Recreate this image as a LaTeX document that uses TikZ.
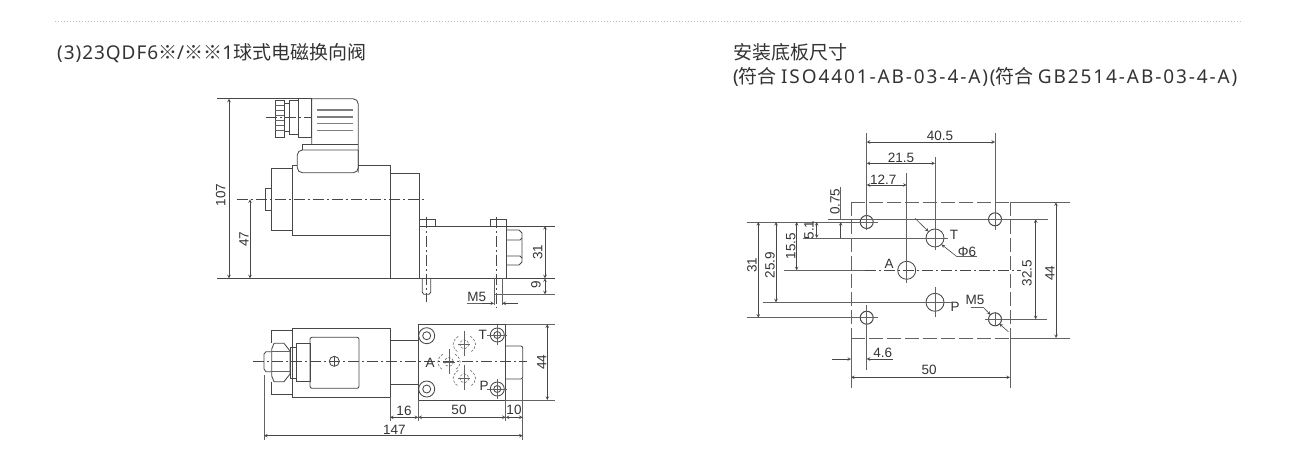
\documentclass[tikz,border=0pt]{standalone}
\usepackage{fontspec}
\setmainfont{Liberation Sans}
\newfontfamily\cjk{Noto Sans CJK SC}
\newfontfamily\headlat[LetterSpace=5]{Noto Sans}
\newfontfamily\headwide[LetterSpace=10]{Noto Sans}
\newcommand{\hl}[1]{{\headlat #1}}
\newcommand{\hw}[1]{{\headwide #1}}
\definecolor{inkline}{HTML}{474747}
\definecolor{inktext}{HTML}{333333}
\tikzset{
  part/.style={draw=inkline, line width=.85pt},
  thinline/.style={draw=inkline!85, line width=.65pt},
  dimline/.style={draw=inkline, line width=.6pt, stealth-stealth},
  arrowline/.style={draw=inkline, line width=.6pt, -stealth},
  axisline/.style={draw=inkline, line width=.65pt, dash pattern=on 11pt off 3pt on 2pt off 3pt},
  hidden/.style={draw=inkline!80, line width=.6pt, dash pattern=on 2.5pt off 1.5pt},
  platedash/.style={draw=inkline!85, line width=.7pt, dash pattern=on 14pt off 4pt},
  lbl/.style={inner sep=0pt, text=inktext, font=\fontsize{13.5}{15}\selectfont},
  title/.style={inner sep=0pt, anchor=west, text=inktext, font=\cjk\fontsize{19}{22}\selectfont}
}
\begin{document}
\begin{tikzpicture}[x=1pt,y=-1pt]
  \useasboundingbox (0,0) rectangle (1300,459);

  % headings
  \draw[draw=black!25, line width=.8pt, dash pattern=on 1pt off 2pt] (55,21) -- (1243,21);
  \node[title] (headleft) at (57,53) {\hl{(3)23QDF6}※\hl{/}※※\hl{1}球式电磁换向阀};
  \node[title] (headright) at (733,52) {安装底板尺寸};
  \node[title] (headsub) at (733,77) {\hw{(}符合 \hw{ISO4401-AB-03-4-A)(}符合 \hw{GB2514-AB-03-4-A)}};

  % side view, plug
  \draw[part] (311.7,144.3) -- (311.7,98.7) -- (353,98.7) to[out=0,in=90] (358.3,104) -- (358.3,172.7);
  \foreach \y in {110,117,123.3,130.3}
    \draw[draw=inkline!70, line width=1.4pt] (316.7,\y) -- (353.3,\y);
  \draw[part] (275,100) rectangle (284,137.7);
  \foreach \y in {105,110,115,120,125,130}
    \draw[thinline] (275,\y) -- (284,\y);
  \draw[part] (284,103.3) rectangle (289.3,131.7);
  \draw[part] (289.3,100.7) rectangle (298.3,134);
  \draw[part] (298.3,98.7) rectangle (311.7,137.7);
  \draw[axisline] (266,117) -- (312,117);
  \draw[part] (302.7,150) -- (302.7,144.3) -- (358.3,144.3);
  \draw[part, rounded corners=5pt] (358.3,150) -- (297.3,150) -- (297.3,172.7) -- (358.3,172.7) -- (358.3,150);

  % side view, coil and body
  \draw[part] (297.3,165.7) -- (292.7,165.7) -- (292.7,235) -- (390.7,235);
  \draw[part] (358.3,165.7) -- (390.7,165.7) -- (390.7,278.3);
  \draw[part] (292.7,168.3) -- (271.7,168.3) -- (271.7,230.7) -- (292.7,230.7);
  \draw[part] (265,188.3) rectangle (271.7,210);
  \draw[part] (390.7,173.3) -- (419,173.3) -- (419,278.3);
  \draw[axisline] (236.7,199.3) -- (426.7,199.3);
  \draw[part] (419,226) -- (555,226);
  \draw[part] (217,278.3) -- (555,278.3);
  \draw[part] (506,226) -- (506,278.3);
  \draw[part] (419,226) -- (419,219) -- (435,219) -- (435,226);
  \draw[part] (490,226) -- (490,219) -- (506,219) -- (506,226);
  \draw[axisline] (426.7,216.7) -- (426.7,301.7);
  \draw[axisline] (496.7,216.7) -- (496.7,308);
  \draw[part] (422.3,278.3) -- (422.3,292.3) -- (424,294.3) -- (429,294.3) -- (430.7,292.3) -- (430.7,278.3);
  \draw[thinline] (494,278.3) -- (494,305);
  \draw[thinline] (502.3,278.3) -- (502.3,305);
  \draw[thinline] (494,294.3) -- (555,294.3);
  \draw[part] (506,230) -- (519,230) -- (522,233) -- (522,262) -- (519,265) -- (506,265);
  \draw[part] (506,240) -- (520,240) -- (522,238);
  \draw[part] (506,256) -- (520,256) -- (522,258);

  % side view, dimensions
  \draw[part] (217,98.7) -- (311.7,98.7);
  \draw[dimline] (229,98.7) -- (229,278.3);
  \draw[dimline] (250,199.3) -- (250,278.3);
  \draw[dimline] (545,226) -- (545,278.3);
  \draw[dimline] (545,278.3) -- (545,294.3);
  \draw[thinline] (466.7,303.3) -- (482,303.3);
  \draw[arrowline] (482,303.3) -- (494,303.3);
  \draw[arrowline] (518,303.3) -- (502.3,303.3);
  \node[lbl, rotate=90] (side107) at (220.7,195) {107};
  \node[lbl, rotate=90] (side47) at (244,239) {47};
  \node[lbl, rotate=90] (side31) at (537.7,252) {31};
  \node[lbl, rotate=90] (side9) at (536,285) {9};
  \node[lbl] (sidem5) at (476.7,297.3) {M5};

  % top view
  \draw[part] (292.3,328.3) rectangle (390,397.3);
  \draw[part] (292.3,330.7) -- (271.7,330.7) -- (271.7,343.3);
  \draw[part] (271.7,381.7) -- (271.7,394) -- (292.3,394);
  \draw[part, rounded corners=2pt] (310,337.3) rectangle (359,388.3);
  \draw[part] (296.7,343.3) rectangle (310,381.7);
  \draw[part] (290,347.3) rectangle (296.7,378.3);
  \draw[part] (290,351) -- (284,343.3) -- (274,343.3) -- (271.7,349) -- (271.7,376) -- (274,381.7) -- (284,381.7) -- (290,374) -- cycle;
  \draw[thinline] (271.7,351.7) -- (290,351.7) (271.7,371.7) -- (290,371.7);
  \draw[part] (271.7,351.7) -- (266,351.7) -- (264,354) -- (264,369) -- (266,371.7) -- (271.7,371.7);
  \draw[part] (334.3,361.3) circle (5);
  \draw[draw=inkline, line width=1.1pt] (329.3,361.3) -- (339.3,361.3) (334.3,356.3) -- (334.3,366.3);
  \draw[part] (390,340) -- (418.3,340) (390,384.3) -- (418.3,384.3);
  \draw[part] (418.3,324.3) rectangle (505.7,400);
  \draw[part, rounded corners=2pt] (505.7,346) -- (522.7,346) -- (522.7,379) -- (505.7,379);
  \draw[axisline] (253,361.3) -- (527,361.3);
  \foreach \y in {335.7,389} {
    \draw[part] (426.7,\y) circle (8);
    \draw[part] (426.7,\y) circle (4);
  }
  \foreach \y in {335,389} {
    \draw[part] (497.3,\y) circle (7);
    \draw[part] (497.3,\y) circle (3.5);
    \draw[thinline] (497.3,\y-10) -- (497.3,\y+10) (487.3,\y) -- (507.3,\y);
  }
  \foreach \x/\y in {464.3/344.3,449/362,464.3/378.3} {
    \draw[thinline] (\x-6,\y) -- (\x+6,\y) (\x,\y-13) -- (\x,\y+12);
    \draw[hidden] (\x,\y) circle (4.5);
    \draw[hidden] (\x-6,\y-8) .. controls (\x-13,\y-3) and (\x-13,\y+3) .. (\x-6,\y+8);
    \draw[hidden] (\x+6,\y-8) .. controls (\x+13,\y-3) and (\x+13,\y+3) .. (\x+6,\y+8);
  }
  \node[lbl] (toport) at (482.7,335) {T};
  \node[lbl] (poport) at (484,385.7) {P};
  \node[lbl] (aoport) at (430,362.7) {A};

  % top view, dimensions
  \draw[thinline] (505.7,324.3) -- (555,324.3) (505.7,400) -- (555,400);
  \draw[thinline] (390,397.3) -- (390,421) (418.3,400) -- (418.3,421) (505.7,400) -- (505.7,421);
  \draw[thinline] (522.7,379) -- (522.7,440) (264,375) -- (264,440);
  \draw[dimline] (547.3,324.3) -- (547.3,400);
  \draw[dimline] (390,417.3) -- (418.3,417.3);
  \draw[dimline] (418.3,417.3) -- (505.7,417.3);
  \draw[dimline] (505.7,417.3) -- (522.7,417.3);
  \draw[dimline] (264,435.7) -- (522.7,435.7);
  \node[lbl, rotate=90] (top44) at (541.7,362) {44};
  \node[lbl] (top16) at (404,410.7) {16};
  \node[lbl] (top50) at (459,410) {50};
  \node[lbl] (top10) at (514,409.5) {10};
  \node[lbl] (top147) at (394.3,430) {147};

  % mounting plate
  \draw[platedash] (851,202.3) -- (1010,202.3);
  \draw[thinline] (1010,202.3) -- (1070,202.3);
  \draw[platedash] (851,338) -- (1010,338);
  \draw[thinline] (1010,338) -- (1070,338);
  \draw[platedash] (851,202.3) -- (851,338);
  \draw[platedash] (1010,202.3) -- (1010,338);
  \draw[thinline] (851,338) -- (851,388) (1010,338) -- (1010,388);
  \foreach \x/\y in {866.7/222,995/219.3,866.7/317.7,995/319.3} {
    \draw[part, line width=1pt] (\x,\y) circle (6.5);
  }
  \draw[part] (935,238) circle (9);
  \draw[part] (906.7,270.3) circle (9);
  \draw[part] (935,302.3) circle (9);
  \draw[thinline] (828,219.3) -- (1048,219.3);
  \draw[thinline] (747,222) -- (878,222);
  \draw[thinline] (803,238) -- (948,238);
  \draw[thinline] (784,270.3) -- (865,270.3);
  \draw[axisline] (865,270.3) -- (1021,270.3);
  \draw[thinline] (763,302.3) -- (952,302.3);
  \draw[thinline] (747,317.7) -- (878,317.7);
  \draw[thinline] (985,319.3) -- (1047,319.3);
  \draw[thinline] (866.7,133) -- (866.7,230) (866.7,305) -- (866.7,370);
  \draw[thinline] (906.7,173) -- (906.7,283);
  \draw[thinline] (935,157) -- (935,250) (935,287) -- (935,317);
  \draw[thinline] (995,133) -- (995,230) (995,312) -- (995,326);

  % mounting plate, dimensions
  \draw[dimline] (866.7,142) -- (995,142);
  \draw[dimline] (866.7,163.3) -- (935,163.3);
  \draw[dimline] (866.7,185) -- (906.7,185);
  \draw[arrowline] (840.7,238) -- (840.7,222);
  \draw[thinline] (840.7,187) -- (840.7,219.3);
  \draw[dimline] (816.7,222) -- (816.7,238);
  \draw[dimline] (796.7,222) -- (796.7,270.3);
  \draw[dimline] (776,222) -- (776,302.3);
  \draw[dimline] (758.3,222) -- (758.3,317.7);
  \draw[dimline] (1035.7,219.3) -- (1035.7,319.3);
  \draw[dimline] (1056,202.3) -- (1056,338);
  \draw[dimline] (851,377.3) -- (1010,377.3);
  \draw[arrowline] (832,359) -- (851,359);
  \draw[arrowline] (893,359) -- (866.7,359);
  \draw[arrowline] (915,218.3) -- (928.5,231.5);
  \draw[arrowline] (957,256.7) -- (941.5,244.5);
  \draw[thinline] (957,256.7) -- (977,256.7);
  \draw[thinline] (970.7,307.3) -- (983.3,307.3);
  \draw[arrowline] (983.3,307.3) -- (990.5,314.8);
  \draw[arrowline] (1008.3,331.7) -- (999.5,323.8);
  \node[lbl] (plate405) at (940,136) {40.5};
  \node[lbl] (plate215) at (901,158) {21.5};
  \node[lbl] (plate127) at (883.3,179.3) {12.7};
  \node[lbl, rotate=90] (plate075) at (835,201.7) {0.75};
  \node[lbl, rotate=90] (plate51) at (809,230) {5.1};
  \node[lbl, rotate=90] (plate155) at (790.7,246) {15.5};
  \node[lbl, rotate=90] (plate259) at (770,265) {25.9};
  \node[lbl, rotate=90] (plate31) at (752,265) {31};
  \node[lbl, rotate=90] (plate325) at (1027,273) {32.5};
  \node[lbl, rotate=90] (plate44) at (1050,273) {44};
  \node[lbl] (plate50) at (929,370) {50};
  \node[lbl] (plate46) at (882.7,353) {4.6};
  \node[lbl] (porttee) at (954,235) {T};
  \node[lbl] (portay) at (889,264) {A};
  \node[lbl] (portpee) at (955,306.7) {P};
  \node[lbl] (platephi) at (967,251.7) {Φ6};
  \node[lbl] (platem5) at (975,300) {M5};
\end{tikzpicture}
\end{document}
